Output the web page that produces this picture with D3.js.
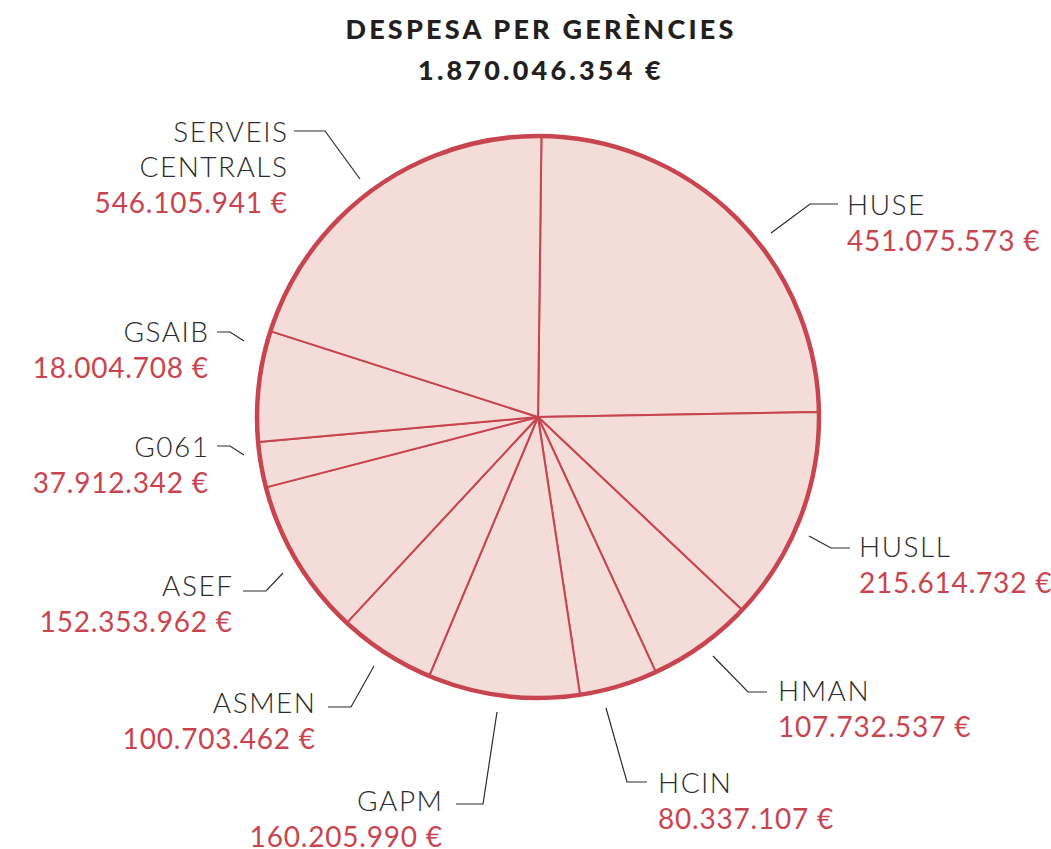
<!DOCTYPE html>
<html>
<head>
<meta charset="utf-8">
<script src="https://cdn.jsdelivr.net/npm/d3@7"></script>
<style>
  body { margin: 0; background: #fff; }
  svg { display: block; font-family: Lato, "Open Sans", sans-serif; }
  .title { font-weight: 900; fill: #231f20; font-size: 27px; text-anchor: middle; letter-spacing: 3.2px; }
  .name { font-weight: 300; fill: #2b2b2b; font-size: 28px; letter-spacing: 1.5px; }
  .amount { font-weight: 400; fill: #c8454f; font-size: 28px; letter-spacing: 0.8px; }
  .leader { fill: none; stroke: #2b2b2b; stroke-width: 1.2; }
</style>
</head>
<body>
<script>
// gerències, clockwise from 12 o'clock
const names = ['HUSE', 'HUSLL', 'HMAN', 'HCIN', 'GAPM', 'ASMEN', 'ASEF', 'G061', 'GSAIB', 'SERVEIS CENTRALS'];
const amounts = ['451.075.573', '215.614.732', '107.732.537', '80.337.107', '160.205.990',
                 '100.703.462', '152.353.962', '37.912.342', '18.004.708', '546.105.941'];
// slice sizes as drawn in the original graphic (degrees)
const drawnShare = [88.3, 44.4, 21.8, 16.2, 31.4, 20.1, 32.6, 9.4, 22.9, 72.9];
const titleLines = ['DESPESA PER GERÈNCIES', '1.870.046.354 €'];

const data = names.map((n, i) => ({ name: n, amount: amounts[i], share: drawnShare[i] }));

const width = 1051, height = 849;
const cx = 538, cy = 417, radius = 281;

// label layout: anchor point, text-anchor and leader polyline (hand placed like the original)
const labelLayout = {
  'HUSE':   { x: 847, y: 215, anchor: 'start', leader: [[771, 233], [810, 204], [838, 204]] },
  'HUSLL':  { x: 859, y: 557, anchor: 'start', leader: [[809, 536], [831, 548], [850, 548]] },
  'HMAN':   { x: 778, y: 701, anchor: 'start', leader: [[713, 656], [748, 692], [767, 692]] },
  'HCIN':   { x: 658, y: 793, anchor: 'start', leader: [[606, 708], [627, 782], [647, 782]] },
  'GAPM':   { x: 442, y: 811, anchor: 'end', leader: [[497, 712], [483, 804], [456, 804]] },
  'ASMEN':  { x: 315, y: 713, anchor: 'end', leader: [[374, 666], [351, 707], [328, 707]] },
  'ASEF':   { x: 232, y: 596, anchor: 'end', leader: [[283, 573], [266, 591], [243, 591]] },
  'G061':   { x: 208, y: 457, anchor: 'end', leader: [[244, 455], [230, 446], [217, 446]] },
  'GSAIB':  { x: 208, y: 342, anchor: 'end', leader: [[244, 341], [230, 332], [217, 332]] },
  'SERVEIS CENTRALS': { x: 287, y: 142, anchor: 'end', leader: [[360, 179], [325, 131], [294, 131]] }
};
const lineStep = 35;

const svg = d3.select('body').append('svg')
  .attr('width', width)
  .attr('height', height);

// title
svg.append('g').selectAll('text')
  .data(titleLines)
  .join('text')
  .attr('class', 'title')
  .attr('x', 541)
  .attr('y', (d, i) => 39 + i * 41)
  .text(d => d);

const pie = d3.pie()
  .value(d => d.share)
  .sort(null)
  .startAngle(0.7 * Math.PI / 180)
  .endAngle(0.7 * Math.PI / 180 + 2 * Math.PI);

const arc = d3.arc().innerRadius(0).outerRadius(radius);

const chart = svg.append('g')
  .attr('transform', `translate(${cx},${cy})`);

chart.selectAll('.slice')
  .data(pie(data))
  .join('path')
  .attr('class', 'slice')
  .attr('d', arc)
  .attr('fill', '#f4ddd8')
  .attr('stroke', '#c8454f')
  .attr('stroke-width', 2)
  .attr('stroke-linejoin', 'round');

chart.append('circle')
  .attr('r', radius)
  .attr('fill', 'none')
  .attr('stroke', '#c8454f')
  .attr('stroke-width', 4.5);

// labels
const labels = svg.append('g').selectAll('.label')
  .data(data)
  .join('g')
  .attr('class', 'label');

labels.append('path')
  .attr('class', 'leader')
  .attr('d', d => d3.line()(labelLayout[d.name].leader));

labels.each(function (d) {
  const g = d3.select(this);
  const L = labelLayout[d.name];
  // trailing letter-spacing pushes end-anchored text left; compensate
  const end = L.anchor === 'end';
  const words = d.name === 'SERVEIS CENTRALS' ? ['SERVEIS', 'CENTRALS'] : [d.name];
  words.forEach((w, i) => {
    g.append('text')
      .attr('class', 'name')
      .attr('x', L.x + (end ? 1.5 : 0))
      .attr('y', L.y + i * lineStep)
      .attr('text-anchor', L.anchor)
      .text(w);
  });
  g.append('text')
    .attr('class', 'amount')
    .attr('x', L.x + (end ? 0.8 : 0))
    .attr('y', L.y + words.length * lineStep + 1)
    .attr('text-anchor', L.anchor)
    .text(d.amount + ' €');
});
</script>
</body>
</html>
